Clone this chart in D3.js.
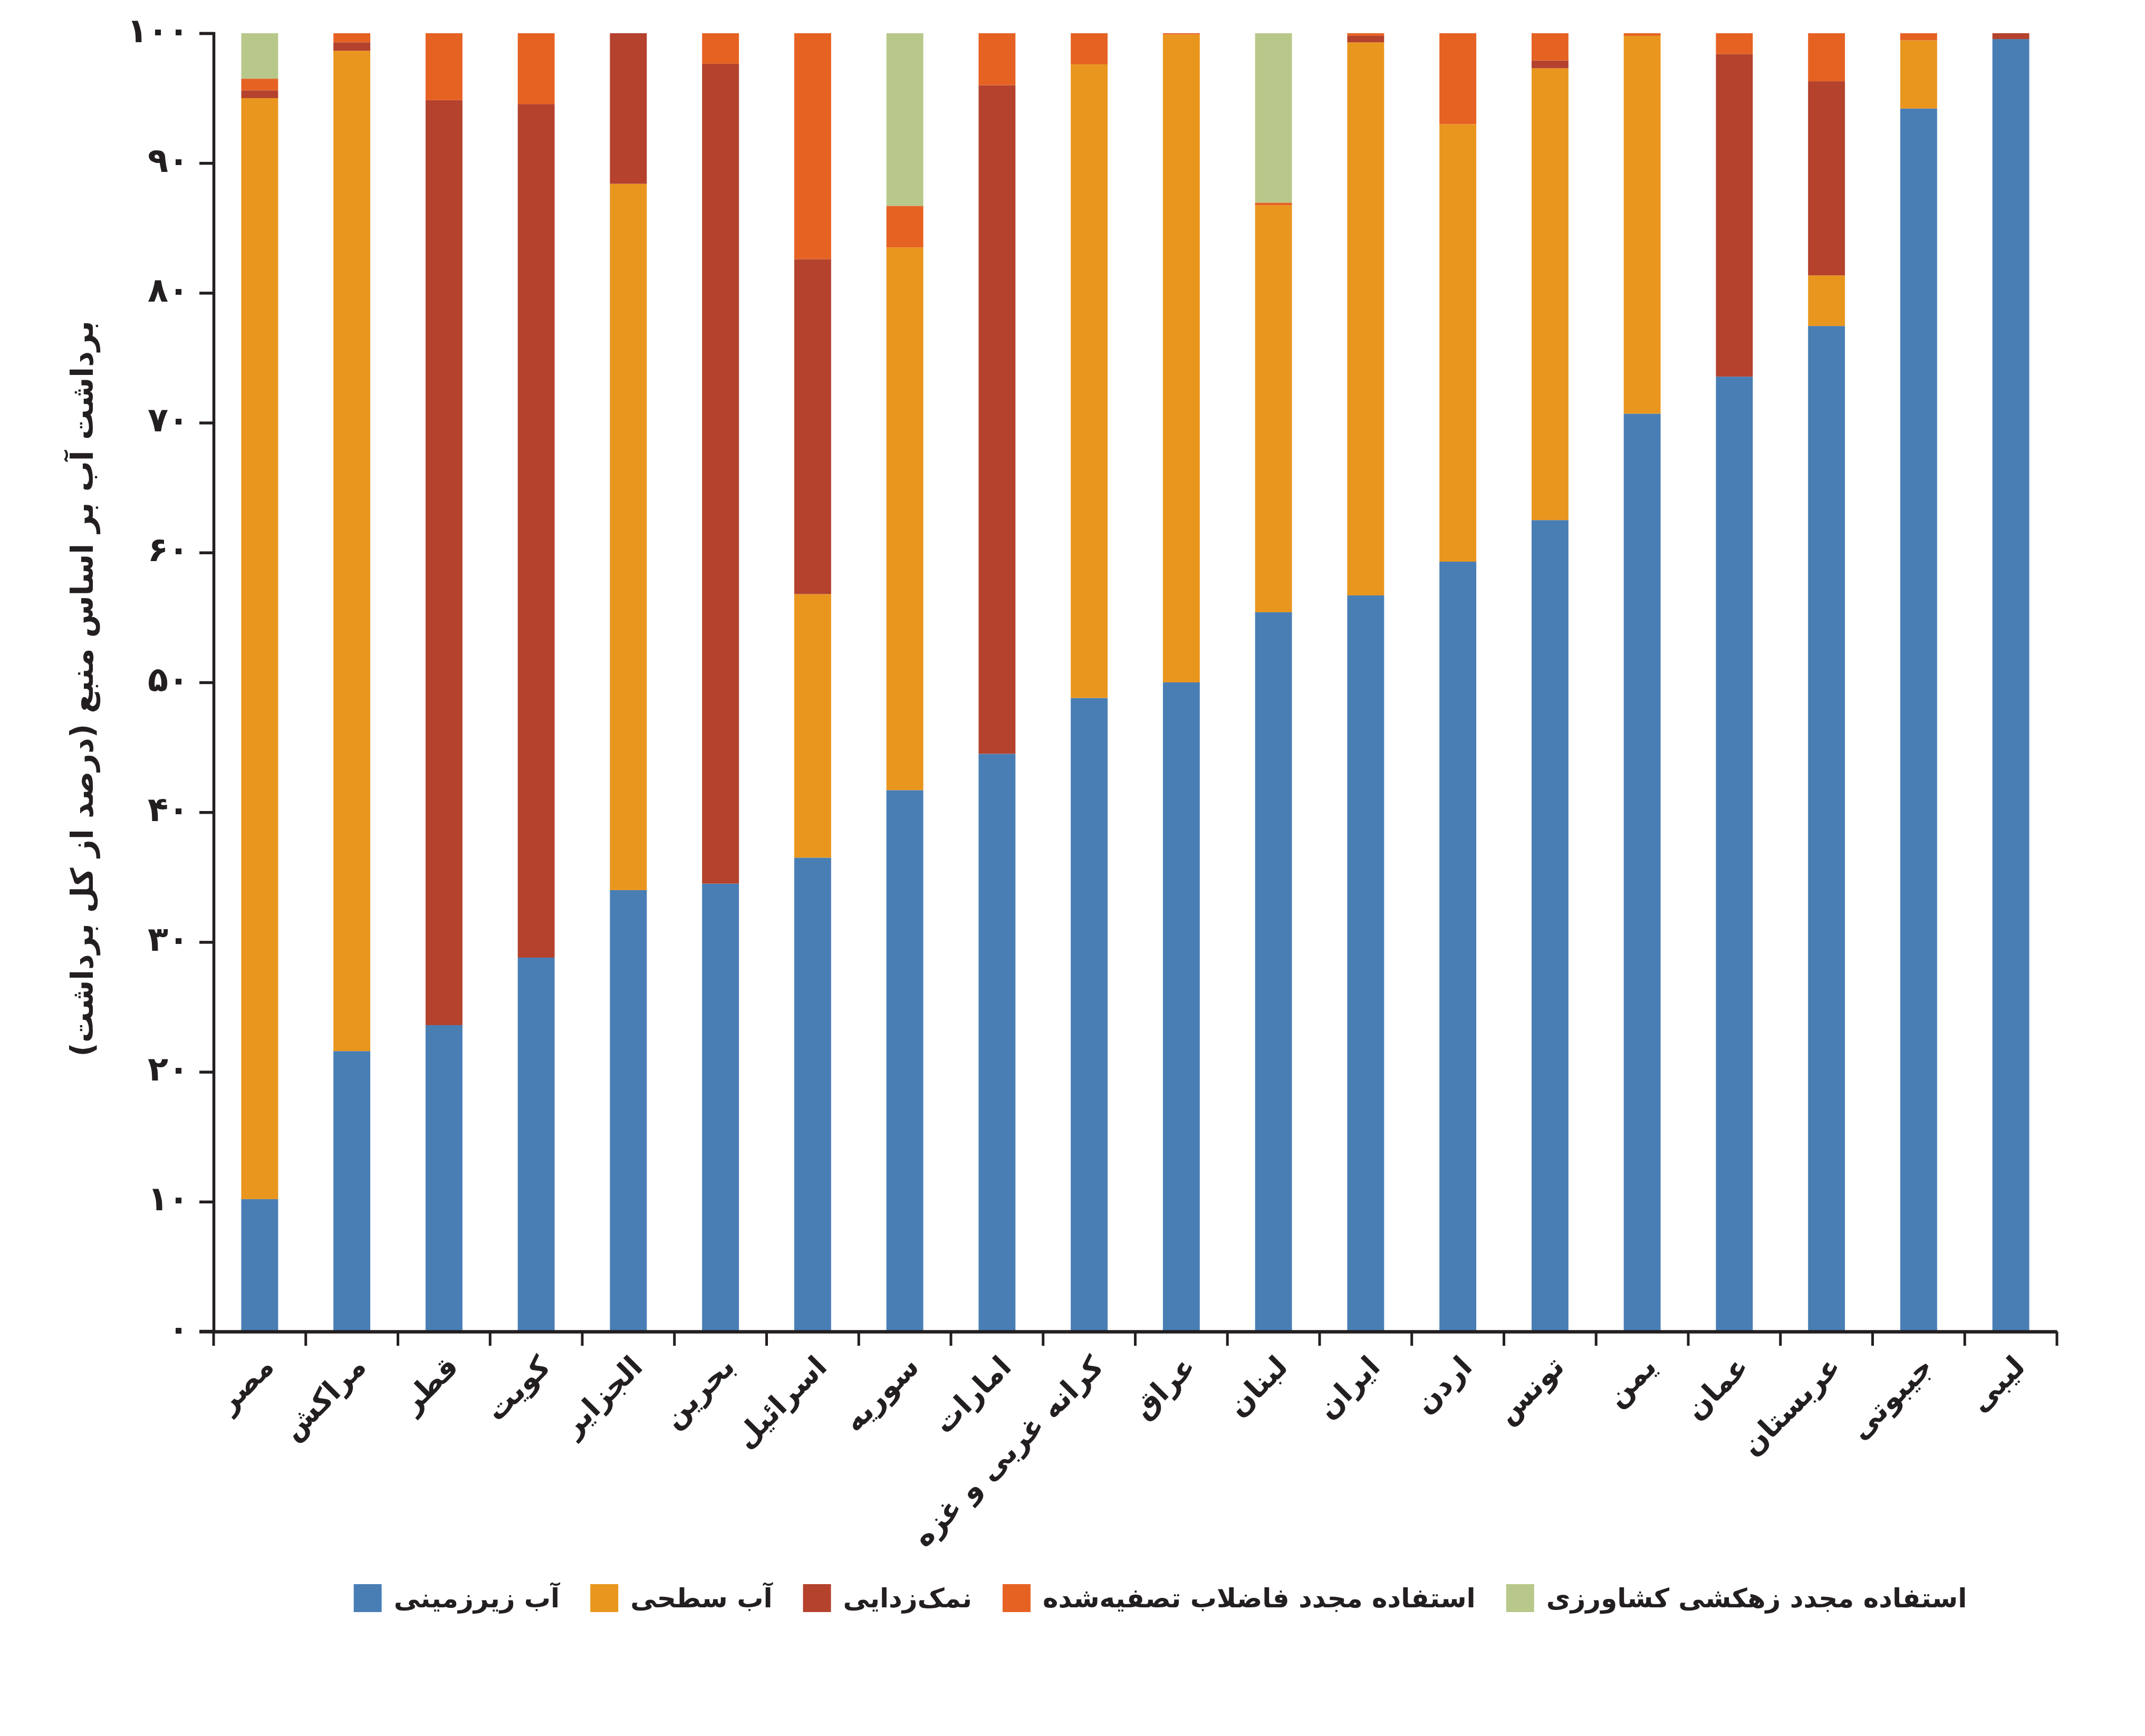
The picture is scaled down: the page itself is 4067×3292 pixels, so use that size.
<!DOCTYPE html>
<html>
<head>
<meta charset="utf-8">
<script src="https://cdn.jsdelivr.net/npm/d3@7"></script>
<style>
  html, body { margin: 0; padding: 0; background: #ffffff; }
  svg { display: block; }
  text { font-family: "DejaVu Sans", "Noto Sans", sans-serif; font-weight: bold; fill: #231f20; }
</style>
</head>
<body>
<script>
// ---------- DATA ----------
const countries = ["مصر","مراکش","قطر","کویت","الجزایر","بحرین","اسرائیل","سوریه","امارات","کرانه غربی و غزه","عراق","لبنان","ایران","اردن","تونس","یمن","عمان","عربستان","جیبوتی","لیبی"];
const groundwater = [10.2, 21.6, 23.6, 28.8, 34.0, 34.5, 36.5, 41.7, 44.5, 48.8, 50.0, 55.4, 56.7, 59.3, 62.5, 70.7, 73.55, 77.45, 94.2, 99.55];
const surfaceWater = [84.8, 77.05, 0, 0, 54.4, 0, 20.3, 41.8, 0, 48.8, 49.9, 31.35, 42.6, 33.7, 34.8, 29.1, 0, 3.9, 5.25, 0];
const desalination = [0.6, 0.65, 71.25, 65.75, 11.6, 63.15, 25.8, 0, 51.5, 0, 0, 0, 0.5, 0, 0.6, 0, 24.85, 14.95, 0, 0.45];
const treatedWastewater = [0.9, 0.7, 5.15, 5.45, 0, 2.35, 17.4, 3.2, 4.0, 2.4, 0.1, 0.2, 0.2, 7.0, 2.1, 0.2, 1.6, 3.7, 0.55, 0];
const agriDrainage = [3.5, 0, 0, 0, 0, 0, 0, 13.3, 0, 0, 0, 13.05, 0, 0, 0, 0, 0, 0, 0, 0];
const seriesNames = ["آب زیرزمینی","آب سطحی","نمک‌زدایی","استفاده مجدد فاضلاب تصفیه‌شده","استفاده مجدد زهکشی کشاورزی"];
const seriesColors = ["#497EB5","#E9961E","#B4422D","#E66222","#B8C88A"];
const yTickValues = [0,10,20,30,40,50,60,70,80,90,100];
const yTickLabels = ["۰","۱۰","۲۰","۳۰","۴۰","۵۰","۶۰","۷۰","۸۰","۹۰","۱۰۰"];
const yTitle = "برداشت آب بر اساس منبع (درصد از کل برداشت)";

// ---------- LAYOUT ----------
const W = 4067, H = 3292;
const plot = { left: 405, right: 3900, top: 63, bottom: 2525 };

const keys = ["gw","sw","de","tw","ad"];
const seriesArrays = [groundwater, surfaceWater, desalination, treatedWastewater, agriDrainage];
const table = countries.map((c, i) => {
  const row = { country: c };
  keys.forEach((k, j) => row[k] = seriesArrays[j][i]);
  return row;
});

const svg = d3.select("body").append("svg")
  .attr("width", W).attr("height", H)
  .attr("viewBox", `0 0 ${W} ${H}`);
svg.append("rect").attr("width", W).attr("height", H).attr("fill", "#ffffff");

const x = d3.scaleBand().domain(countries).range([plot.left, plot.right]).padding(0);
const y = d3.scaleLinear().domain([0, 100]).range([plot.bottom, plot.top]);
const barW = x.bandwidth() * 0.4;

const stacked = d3.stack().keys(keys)(table);

svg.append("g").selectAll("g")
  .data(stacked)
  .join("g")
  .attr("fill", (d, i) => seriesColors[i])
  .selectAll("rect")
  .data(d => d)
  .join("rect")
  .attr("x", d => x(d.data.country) + (x.bandwidth() - barW) / 2)
  .attr("width", barW)
  .attr("y", d => y(d[1]))
  .attr("height", d => Math.max(0, y(d[0]) - y(d[1])));

// Y axis
const yAxis = d3.axisLeft(y)
  .tickValues(yTickValues)
  .tickFormat((d, i) => yTickLabels[i])
  .tickSizeOuter(0)
  .tickSize(27)
  .tickPadding(20);
const gy = svg.append("g").attr("transform", `translate(${plot.left},0)`).call(yAxis);
gy.select(".domain").attr("stroke", "#231f20").attr("stroke-width", 5.5);
gy.selectAll(".tick line").attr("stroke", "#231f20").attr("stroke-width", 5.5);
gy.selectAll(".tick text")
  .attr("font-size", 64)
  .attr("font-family", "DejaVu Sans")
  .attr("font-weight", "bold")
  .attr("fill", "#231f20")
  .attr("dy", "0.25em");

// X axis
const xAxis = d3.axisBottom(x).tickSize(0).tickFormat("");
const gx = svg.append("g").attr("transform", `translate(0,${plot.bottom})`).call(xAxis);
gx.select(".domain").attr("stroke", "#231f20").attr("stroke-width", 6.5);
gx.selectAll(".tick").remove();
const bounds = countries.map(c => x(c)).concat([plot.right]);
gx.selectAll("line.bt")
  .data(bounds)
  .join("line")
  .attr("class", "bt")
  .attr("x1", d => d).attr("x2", d => d)
  .attr("y1", 0).attr("y2", 27)
  .attr("stroke", "#231f20").attr("stroke-width", 5);
gx.append("line").attr("x1", plot.left - 27).attr("x2", plot.left).attr("y1", 0).attr("y2", 0)
  .attr("stroke", "#231f20").attr("stroke-width", 6.5);

// X labels rotated
const lx = d => x(d) + x.bandwidth() / 2 + 30;
const ly = plot.bottom + 70;
svg.append("g").selectAll("text")
  .data(countries)
  .join("text")
  .attr("x", lx)
  .attr("y", ly)
  .attr("text-anchor", "end")
  .attr("font-size", 55)
  .attr("transform", d => `rotate(-45 ${lx(d)} ${ly})`)
  .text(d => d);

// Y title
svg.append("text")
  .attr("x", 0).attr("y", 0)
  .attr("text-anchor", "middle")
  .attr("font-size", 58)
  .attr("transform", `translate(176,1306) rotate(-90)`)
  .text(yTitle);

// Legend (chained, centered)
const legY = 3004, sw = 53, txtGap = 23, itemGap = 58, legCenter = 2200;
const legG = svg.append("g");
const items = legG.selectAll("g")
  .data(seriesNames)
  .join("g");
items.append("rect").attr("width", sw).attr("height", sw).attr("fill", (d, i) => seriesColors[i]);
items.append("text")
  .attr("x", sw + txtGap).attr("y", 44)
  .attr("text-anchor", "start")
  .attr("font-size", 50)
  .text(d => d);
let cursor = 0;
const offs = [];
items.each(function() {
  const tw = d3.select(this).select("text").node().getComputedTextLength();
  offs.push(cursor);
  cursor += sw + txtGap + tw + itemGap;
});
const total = cursor - itemGap;
const startX = legCenter - total / 2;
items.attr("transform", (d, i) => `translate(${startX + offs[i]},${legY})`);
</script>
</body>
</html>
